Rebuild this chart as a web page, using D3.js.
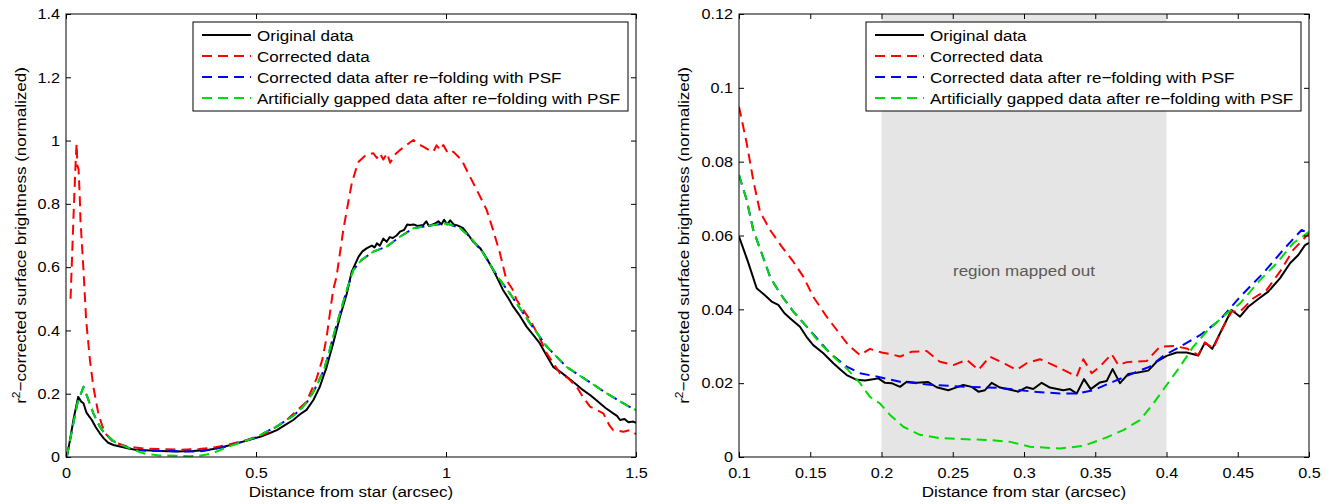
<!DOCTYPE html>
<html>
<head>
<meta charset="utf-8">
<script src="https://cdn.jsdelivr.net/npm/d3@7"></script>
<style>
  body { margin: 0; background: #fff; }
</style>
</head>
<body>
<div id="chartContainer"></div>
<script>
// ---- data: [distance (arcsec), brightness] ----
var seriesNames = ["Original data", "Corrected data",
  "Corrected data after re\u2212folding with PSF",
  "Artificially gapped data after re\u2212folding with PSF"];

var leftXTicks = [0, 0.5, 1, 1.5];
var leftYTicks = [0, 0.2, 0.4, 0.6, 0.8, 1, 1.2, 1.4];
var rightXTicks = [0.1, 0.15, 0.2, 0.25, 0.3, 0.35, 0.4, 0.45, 0.5];
var rightYTicks = [0, 0.02, 0.04, 0.06, 0.08, 0.1, 0.12];

var mappedBand = [0.2, 0.4];
var mappedLabel = "region mapped out";

var leftOriginal = [[0.002,0],[0.01,0.05],[0.02,0.12],[0.032,0.19],[0.04,0.175],[0.046,0.17],[0.054,0.14],[0.06,0.13],
  [0.068,0.117],[0.078,0.095],[0.089,0.075],[0.1,0.058],[0.111,0.045],[0.125,0.038],[0.142,0.033],[0.165,0.027],
  [0.186,0.022],[0.21,0.021],[0.247,0.019],[0.27,0.018],[0.291,0.017],[0.31,0.018],[0.335,0.019],[0.36,0.021],
  [0.379,0.024],[0.4,0.028],[0.423,0.035],[0.45,0.043],[0.476,0.052],[0.511,0.064],[0.535,0.075],[0.555,0.085],
  [0.575,0.1],[0.598,0.117],[0.616,0.135],[0.633,0.149],[0.651,0.18],[0.668,0.222],[0.686,0.285],[0.703,0.359],
  [0.721,0.443],[0.739,0.517],[0.752,0.586],[0.77,0.633],[0.78,0.65],[0.792,0.66],[0.805,0.668],[0.812,0.662],
  [0.818,0.675],[0.826,0.668],[0.835,0.69],[0.844,0.68],[0.852,0.695],[0.86,0.692],[0.87,0.7],[0.879,0.712],
  [0.89,0.718],[0.898,0.735],[0.905,0.733],[0.915,0.735],[0.925,0.73],[0.94,0.733],[0.948,0.745],[0.955,0.73],
  [0.97,0.737],[0.98,0.745],[0.988,0.735],[0.995,0.75],[1.003,0.735],[1.011,0.748],[1.02,0.735],[1.03,0.732],
  [1.045,0.723],[1.06,0.7],[1.072,0.68],[1.09,0.66],[1.107,0.628],[1.12,0.6],[1.133,0.57],[1.15,0.528],
  [1.165,0.5],[1.177,0.475],[1.195,0.445],[1.212,0.412],[1.23,0.385],[1.247,0.359],[1.265,0.32],[1.282,0.285],
  [1.3,0.27],[1.317,0.254],[1.34,0.232],[1.36,0.212],[1.38,0.195],[1.395,0.18],[1.405,0.17],[1.42,0.155],
  [1.44,0.138],[1.45,0.13],[1.458,0.117],[1.47,0.12],[1.48,0.11],[1.493,0.112],[1.5,0.108]];

var leftCorrected = [[0.012,0.5],[0.015,0.6],[0.021,0.8],[0.026,0.95],[0.028,0.99],[0.03,0.92],[0.033,0.91],
  [0.036,0.83],[0.038,0.75],[0.046,0.591],[0.053,0.433],[0.063,0.307],[0.072,0.222],[0.085,0.138],[0.095,0.1],
  [0.103,0.075],[0.124,0.048],[0.16,0.033],[0.203,0.027],[0.247,0.025],[0.3,0.023],[0.35,0.025],[0.39,0.03],
  [0.423,0.038],[0.476,0.054],[0.528,0.075],[0.581,0.117],[0.633,0.175],[0.66,0.25],[0.675,0.31],[0.686,0.38],
  [0.703,0.528],[0.712,0.57],[0.73,0.72],[0.747,0.833],[0.752,0.865],[0.765,0.917],[0.77,0.933],[0.79,0.955],
  [0.809,0.96],[0.818,0.945],[0.826,0.96],[0.835,0.94],[0.845,0.96],[0.853,0.93],[0.865,0.955],[0.879,0.97],
  [0.895,0.985],[0.914,1.002],[0.925,0.99],[0.94,0.981],[0.955,0.97],[0.967,0.965],[0.975,0.985],[0.985,0.97],
  [0.993,0.986],[1.005,0.96],[1.019,0.965],[1.041,0.939],[1.063,0.886],[1.081,0.844],[1.107,0.781],[1.124,0.717],
  [1.142,0.644],[1.159,0.559],[1.175,0.53],[1.186,0.496],[1.221,0.433],[1.245,0.38],[1.265,0.328],[1.3,0.264],
  [1.32,0.25],[1.344,0.222],[1.36,0.19],[1.379,0.159],[1.414,0.138],[1.43,0.1],[1.44,0.085],[1.467,0.08],
  [1.485,0.085],[1.5,0.072]];

var leftRefolded = [[0.002,0],[0.015,0.08],[0.03,0.17],[0.046,0.222],[0.056,0.19],[0.072,0.138],[0.089,0.096],
  [0.1,0.077],[0.107,0.07],[0.125,0.05],[0.142,0.04],[0.16,0.031],[0.177,0.025],[0.195,0.021],[0.212,0.02],
  [0.25,0.019],[0.3,0.018],[0.335,0.017],[0.36,0.019],[0.38,0.023],[0.4,0.028],[0.423,0.033],[0.45,0.043],
  [0.476,0.053],[0.5,0.062],[0.528,0.08],[0.555,0.097],[0.581,0.117],[0.6,0.132],[0.616,0.149],[0.635,0.175],
  [0.651,0.206],[0.665,0.24],[0.677,0.27],[0.69,0.32],[0.703,0.38],[0.721,0.454],[0.739,0.528],[0.756,0.591],
  [0.778,0.623],[0.809,0.649],[0.844,0.665],[0.879,0.696],[0.914,0.723],[0.967,0.733],[1.002,0.738],[1.037,0.723],
  [1.063,0.696],[1.098,0.644],[1.133,0.575],[1.168,0.517],[1.221,0.423],[1.265,0.349],[1.317,0.285],[1.37,0.243],
  [1.423,0.201],[1.475,0.164],[1.5,0.148]];

var leftGapped = [[0.002,0],[0.015,0.08],[0.03,0.17],[0.046,0.222],[0.056,0.19],[0.072,0.138],[0.089,0.096],
  [0.1,0.077],[0.107,0.07],[0.125,0.05],[0.142,0.04],[0.16,0.031],[0.177,0.024],[0.195,0.015],[0.212,0.009],
  [0.247,0.005],[0.291,0.004],[0.325,0.002],[0.35,0.004],[0.37,0.008],[0.385,0.012],[0.4,0.019],[0.423,0.031],
  [0.45,0.042],[0.476,0.053],[0.5,0.062],[0.528,0.08],[0.555,0.097],[0.581,0.117],[0.6,0.132],[0.616,0.149],
  [0.635,0.175],[0.651,0.206],[0.665,0.24],[0.677,0.27],[0.69,0.32],[0.703,0.38],[0.721,0.454],[0.739,0.528],
  [0.756,0.591],[0.778,0.623],[0.809,0.649],[0.844,0.665],[0.879,0.696],[0.914,0.723],[0.967,0.733],[1.002,0.738],
  [1.037,0.723],[1.063,0.696],[1.098,0.644],[1.133,0.575],[1.168,0.517],[1.221,0.423],[1.265,0.349],[1.317,0.285],
  [1.37,0.243],[1.423,0.201],[1.475,0.164],[1.5,0.148]];

var rightOriginal = [[0.1,0.0597],[0.1062,0.053],[0.1124,0.0457],[0.1176,0.044],[0.1229,0.0421],[0.1276,0.0412],
  [0.1318,0.039],[0.1358,0.0376],[0.1428,0.0353],[0.1475,0.0325],[0.1521,0.0303],[0.1592,0.0281],[0.1662,0.0254],
  [0.1709,0.0238],[0.1756,0.0222],[0.1826,0.0209],[0.1884,0.0207],[0.193,0.021],[0.1978,0.0213],[0.2025,0.0201],
  [0.2071,0.02],[0.213,0.019],[0.2177,0.0204],[0.2247,0.0201],[0.2328,0.0203],[0.2387,0.0189],[0.2469,0.0181],
  [0.2521,0.0188],[0.2574,0.0195],[0.2633,0.019],[0.268,0.0177],[0.2726,0.0181],[0.2773,0.0201],[0.2832,0.0188],
  [0.296,0.0177],[0.3019,0.0189],[0.3065,0.0184],[0.3124,0.0201],[0.3182,0.0188],[0.3276,0.0181],[0.3323,0.0184],
  [0.337,0.0172],[0.3421,0.0211],[0.3468,0.0184],[0.3533,0.0202],[0.358,0.0206],[0.3622,0.0238],[0.3674,0.02],
  [0.3732,0.0225],[0.3791,0.0228],[0.3872,0.0234],[0.3931,0.0258],[0.4001,0.0274],[0.4071,0.0283],[0.4141,0.0283],
  [0.4223,0.0275],[0.427,0.031],[0.4321,0.0293],[0.4387,0.0344],[0.4457,0.0398],[0.4516,0.038],[0.4574,0.0407],
  [0.4644,0.0428],[0.4714,0.0448],[0.4796,0.0484],[0.4867,0.0525],[0.4925,0.0547],[0.4972,0.0574],[0.5,0.058]];

var rightCorrected = [[0.1,0.0949],[0.1054,0.085],[0.11,0.075],[0.1147,0.0665],[0.1218,0.0615],[0.13,0.057],
  [0.1381,0.0529],[0.1452,0.0488],[0.1521,0.0434],[0.1615,0.038],[0.1686,0.0344],[0.1767,0.0303],[0.1849,0.0276],
  [0.1919,0.0293],[0.2001,0.0283],[0.206,0.0279],[0.213,0.0272],[0.2212,0.0285],[0.2317,0.0287],[0.241,0.0258],
  [0.2504,0.0249],[0.2598,0.0263],[0.268,0.0236],[0.2761,0.0272],[0.2867,0.0252],[0.2949,0.0236],[0.3019,0.0254],
  [0.3112,0.0265],[0.3229,0.0245],[0.337,0.0218],[0.3416,0.0265],[0.3475,0.0227],[0.3533,0.0245],[0.3615,0.0279],
  [0.3662,0.0249],[0.3721,0.0257],[0.3861,0.026],[0.3954,0.0299],[0.4048,0.0301],[0.4141,0.0294],[0.4223,0.0276],
  [0.427,0.031],[0.4328,0.0294],[0.4387,0.0344],[0.4457,0.0394],[0.4516,0.0394],[0.4609,0.043],[0.4702,0.0452],
  [0.4796,0.0502],[0.4889,0.0561],[0.5,0.0606]];

var rightRefolded = [[0.1,0.0764],[0.1054,0.0696],[0.11,0.0615],[0.1159,0.0552],[0.1218,0.0488],[0.1288,0.0443],
  [0.1381,0.0394],[0.1475,0.0353],[0.1568,0.0312],[0.1639,0.0281],[0.1756,0.0245],[0.1849,0.0227],[0.1966,0.0218],
  [0.213,0.0204],[0.2363,0.0195],[0.2598,0.019],[0.2832,0.0187],[0.3065,0.0177],[0.3253,0.0172],[0.337,0.0172],
  [0.3487,0.0181],[0.3627,0.0204],[0.3768,0.0227],[0.3884,0.0245],[0.3978,0.0274],[0.4095,0.0299],[0.4235,0.033],
  [0.4375,0.0371],[0.4516,0.0434],[0.4679,0.0498],[0.4819,0.0561],[0.4948,0.0615],[0.5,0.0606]];

var rightGapped = [[0.1,0.0764],[0.1054,0.0696],[0.11,0.0615],[0.1159,0.0552],[0.1218,0.0488],[0.1288,0.0443],
  [0.1381,0.0394],[0.1475,0.0353],[0.1568,0.0308],[0.1662,0.0272],[0.1756,0.024],[0.1849,0.02],[0.1919,0.0163],
  [0.1989,0.0145],[0.206,0.0114],[0.2153,0.0082],[0.227,0.006],[0.241,0.0051],[0.2598,0.0048],[0.2761,0.0046],
  [0.2902,0.0041],[0.3042,0.0028],[0.3253,0.0023],[0.3416,0.003],[0.358,0.0053],[0.3697,0.0073],[0.3814,0.01],
  [0.3908,0.0145],[0.4001,0.0195],[0.4095,0.0245],[0.4188,0.0299],[0.4282,0.034],[0.4422,0.0389],[0.4516,0.0416],
  [0.4656,0.0479],[0.4773,0.0525],[0.4889,0.0579],[0.5,0.061]];

// ---- styles ----
var seriesColors = ["#000000", "#ff0000", "#0000ff", "#00dd00"];
var font = "'Liberation Sans', Arial, Helvetica, sans-serif";
var stretch = 1.1;     // the original glyphs are a little wider than Arial
var textSize = 15.5, tickSize = 15, tickStretch = 1.08;

var svg = d3.select("#chartContainer").append("svg")
  .attr("width", 1332).attr("height", 504)
  .style("font-family", font);

function drawPanel(p) {
  var x = d3.scaleLinear().domain(p.xDomain).range([p.left, p.left + p.width]);
  var y = d3.scaleLinear().domain(p.yDomain).range([p.top + p.height, p.top]);

  svg.append("clipPath").attr("id", "clip" + p.id)
    .append("rect")
    .attr("x", p.left).attr("y", p.top)
    .attr("width", p.width).attr("height", p.height);

  // shaded region
  if (p.band) {
    svg.append("rect")
      .attr("x", x(p.band[0])).attr("y", y(p.yDomain[1]))
      .attr("width", x(p.band[1]) - x(p.band[0]))
      .attr("height", y(p.yDomain[0]) - y(p.yDomain[1]))
      .attr("fill", "#e5e5e5");
    svg.append("text")
      .attr("transform", "translate(" + x((p.band[0] + p.band[1]) / 2) + "," + y(0.049) + ") scale(" + stretch + ",1)")
      .attr("text-anchor", "middle")
      .style("font-size", textSize + "px")
      .attr("fill", "#5a5a5a")
      .text(p.bandLabel);
  }

  var line = d3.line().x(function (d) { return x(d[0]); }).y(function (d) { return y(d[1]); });
  p.series.forEach(function (s, i) {
    svg.append("path")
      .datum(s)
      .attr("clip-path", "url(#clip" + p.id + ")")
      .attr("fill", "none")
      .attr("stroke", seriesColors[i])
      .attr("stroke-width", 2)
      .attr("stroke-linejoin", "round")
      .attr("stroke-dasharray", i === 0 ? null : "10,6")
      .attr("d", line);
  });

  // ticks on all four sides, labels bottom and left
  var fmt = d3.format("~g");
  var gx = svg.append("g").attr("transform", "translate(0," + (p.top + p.height) + ")")
    .call(d3.axisBottom(x).tickValues(p.xTicks).tickFormat(fmt).tickSizeInner(-5).tickSizeOuter(0).tickPadding(10));
  var gy = svg.append("g").attr("transform", "translate(" + p.left + ",0)")
    .call(d3.axisLeft(y).tickValues(p.yTicks).tickFormat(fmt).tickSizeInner(-5).tickSizeOuter(0).tickPadding(6));
  var gt = svg.append("g").attr("transform", "translate(0," + p.top + ")")
    .call(d3.axisTop(x).tickValues(p.xTicks).tickFormat("").tickSizeInner(-5).tickSizeOuter(0));
  var gr = svg.append("g").attr("transform", "translate(" + (p.left + p.width) + ",0)")
    .call(d3.axisRight(y).tickValues(p.yTicks).tickFormat("").tickSizeInner(-5).tickSizeOuter(0));
  [gx, gy, gt, gr].forEach(function (g) {
    g.select(".domain").remove();
    g.attr("font-family", font).attr("font-size", tickSize);
    g.selectAll(".tick line").attr("stroke", "#000");
    g.selectAll(".tick text").attr("fill", "#000").attr("transform", "scale(" + tickStretch + ",1)");
  });
  gy.selectAll(".tick text").attr("x", -6 / tickStretch);

  svg.append("rect")
    .attr("x", p.left).attr("y", p.top)
    .attr("width", p.width).attr("height", p.height)
    .attr("fill", "none").attr("stroke", "#000").attr("stroke-width", 1);

  // axis titles
  svg.append("text")
    .attr("transform", "translate(" + (p.left + p.width / 2) + ",497) scale(" + stretch + ",1)")
    .attr("text-anchor", "middle")
    .style("font-size", textSize + "px")
    .text("Distance from star (arcsec)");

  var yl = svg.append("text")
    .attr("transform", "translate(" + p.yLabelX + "," + (p.top + p.height / 2) + ") rotate(-90) scale(" + stretch + ",1)")
    .attr("text-anchor", "middle")
    .style("font-size", textSize + "px");
  yl.append("tspan").text("r");
  yl.append("tspan").attr("dy", -6).style("font-size", "11px").text("2");
  yl.append("tspan").attr("dy", 6).text("\u2212corrected surface brightness (normalized)");

  // legend
  var lx = p.left + p.width - 443, ly = 22;
  svg.append("rect")
    .attr("x", lx).attr("y", ly).attr("width", 435).attr("height", 89)
    .attr("fill", "#fff").attr("stroke", "#000").attr("stroke-width", 1);
  seriesNames.forEach(function (name, i) {
    var ry = ly + 13 + i * 21;
    svg.append("line")
      .attr("x1", lx + 9).attr("x2", lx + 58)
      .attr("y1", ry).attr("y2", ry)
      .attr("stroke", seriesColors[i]).attr("stroke-width", 2)
      .attr("stroke-dasharray", i === 0 ? null : "10,6");
    svg.append("text")
      .attr("transform", "translate(" + (lx + 64) + "," + (ry + 5.5) + ") scale(" + stretch + ",1)")
      .style("font-size", textSize + "px")
      .text(name);
  });
}

drawPanel({
  id: "L", left: 66, top: 14, width: 570, height: 443,
  xDomain: [0, 1.5], yDomain: [0, 1.4],
  xTicks: leftXTicks, yTicks: leftYTicks, yLabelX: 26,
  series: [leftOriginal, leftCorrected, leftRefolded, leftGapped]
});

drawPanel({
  id: "R", left: 739, top: 14, width: 570, height: 443,
  xDomain: [0.1, 0.5], yDomain: [0, 0.12],
  xTicks: rightXTicks, yTicks: rightYTicks, yLabelX: 689,
  band: mappedBand, bandLabel: mappedLabel,
  series: [rightOriginal, rightCorrected, rightRefolded, rightGapped]
});
</script>
</body>
</html>
